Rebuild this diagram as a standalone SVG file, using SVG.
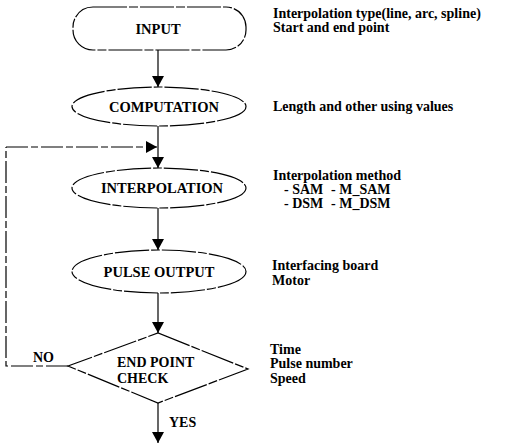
<svg xmlns="http://www.w3.org/2000/svg" width="505" height="444" viewBox="0 0 505 444">
  <defs>
    <marker id="arrow" viewBox="0 0 11 17" refX="11" refY="8.5" markerWidth="11" markerHeight="17" markerUnits="userSpaceOnUse" orient="auto">
      <path d="M0,2.5 L11,8.5 L0,14.5 Z" fill="#000"/>
    </marker>
    <style>
      .shape { fill: #fff; stroke: #000; stroke-width: 1.2; stroke-dasharray: 34 2 9 2; }
      .link { fill: none; stroke: #000; stroke-width: 1.2; }
      .loop { fill: none; stroke: #000; stroke-width: 1.2; stroke-dasharray: 22 3 7 3; }
      .label { font-family: "Liberation Serif", "Times New Roman", serif; font-weight: bold; font-size: 14px; fill: #000; }
      .node { text-anchor: middle; font-size: 14.5px; }
      .note { font-size: 14px; }
    </style>
  </defs>

  <rect width="505" height="444" fill="#fff"/>

  <!-- connectors -->
  <g id="connectors">
    <line class="link" x1="158" y1="50" x2="158" y2="87" marker-end="url(#arrow)"/>
    <line class="link" x1="158" y1="126" x2="158" y2="168" marker-end="url(#arrow)"/>
    <line class="link" x1="158" y1="208" x2="158" y2="250" marker-end="url(#arrow)"/>
    <line class="link" x1="158" y1="293" x2="158" y2="333" marker-end="url(#arrow)"/>
    <line class="link" x1="158" y1="403" x2="158" y2="443" marker-end="url(#arrow)"/>
    <!-- NO branch loops back above INTERPOLATION -->
    <polyline class="loop" points="68,366 6,366 6,147"/>
    <line class="loop" x1="6" y1="147" x2="157" y2="147" marker-end="url(#arrow)"/>
    <text class="label" x="33" y="362">NO</text>
    <text class="label" x="169" y="427">YES</text>
  </g>

  <g id="input">
    <rect class="shape" x="73" y="7" width="173" height="43" rx="20" ry="20"/>
    <text class="label node" x="158" y="34">INPUT</text>
  </g>

  <g id="computation">
    <ellipse class="shape" cx="159" cy="106.5" rx="87" ry="19.5"/>
    <text class="label node" x="164" y="112">COMPUTATION</text>
  </g>

  <g id="interpolation">
    <ellipse class="shape" cx="159" cy="188" rx="87" ry="20"/>
    <text class="label node" x="162" y="193">INTERPOLATION</text>
  </g>

  <g id="pulse-output">
    <ellipse class="shape" cx="159" cy="271.5" rx="87" ry="21.5"/>
    <text class="label node" x="159" y="277">PULSE OUTPUT</text>
  </g>

  <g id="end-point-check">
    <polygon class="shape" points="158,333 248,369 158,403 68,366"/>
    <text class="label" x="117" y="367">END POINT</text>
    <text class="label" x="117" y="383">CHECK</text>
  </g>

  <!-- side notes -->
  <g id="notes" class="label note">
    <text x="273" y="18">Interpolation type(line, arc, spline)</text>
    <text x="273" y="32">Start and end point</text>
    <text x="273" y="111">Length and other using values</text>
    <text x="273" y="180">Interpolation method</text>
    <text x="284" y="194">- SAM</text>
    <text x="331" y="194">- M_SAM</text>
    <text x="284" y="208">- DSM</text>
    <text x="331" y="208">- M_DSM</text>
    <text x="272" y="270">Interfacing board</text>
    <text x="272" y="285">Motor</text>
    <text x="270" y="354">Time</text>
    <text x="270" y="368">Pulse number</text>
    <text x="270" y="383">Speed</text>
  </g>
</svg>
